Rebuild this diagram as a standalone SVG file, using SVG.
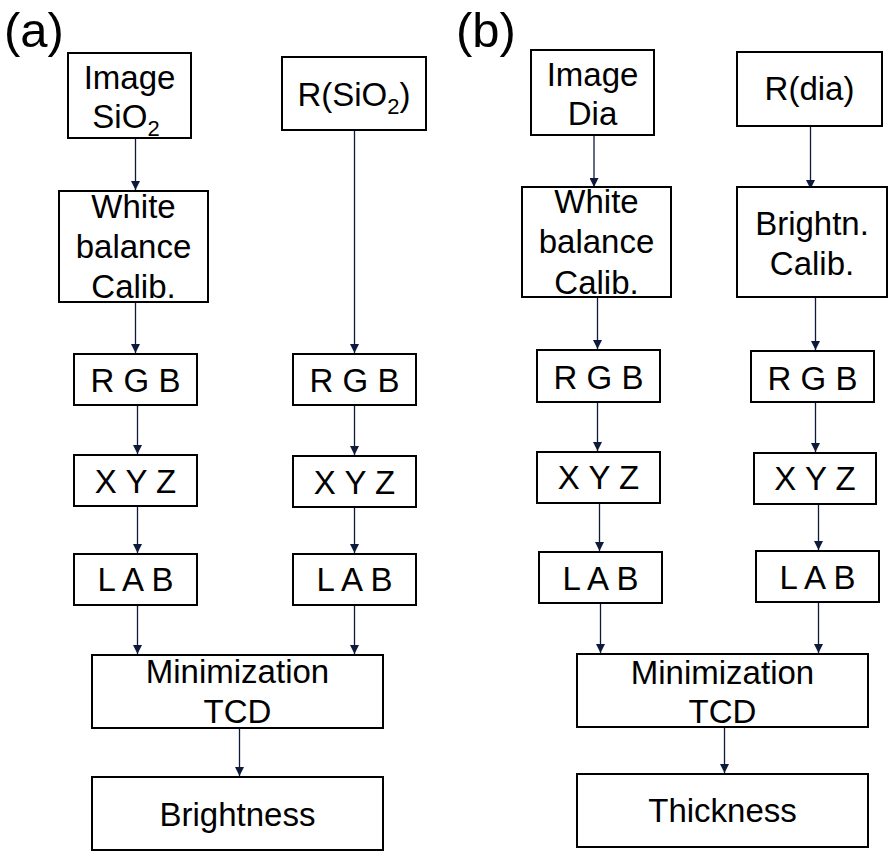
<svg xmlns="http://www.w3.org/2000/svg" width="894" height="863" viewBox="0 0 894 863">
<defs>
<marker id="ah" viewBox="0 0 10 10" refX="10" refY="5" markerWidth="9" markerHeight="9" markerUnits="userSpaceOnUse" orient="auto">
<path d="M0,0 L10,5 L0,10 Z" fill="#0e1a3b"/>
</marker>
<style>
.box{fill:#fff;stroke:#000;stroke-width:2}
.t{font-family:"Liberation Sans",Arial,sans-serif;font-size:33px;fill:#000;text-anchor:middle}
.lbl{font-family:"Liberation Sans",Arial,sans-serif;font-size:49px;fill:#000}
.c{stroke:#0e1a3b;stroke-width:1.3;fill:none}
.a{marker-end:url(#ah)}
.sub{font-size:22px}
</style>
</defs>
<rect width="894" height="863" fill="#fff"/>
<text class="lbl" x="4" y="47">(a)</text>
<text class="lbl" x="456" y="47">(b)</text>

<g id="connectors">
<line class="c a" x1="135.5" y1="139" x2="135.5" y2="190"/>
<line class="c a" x1="354.5" y1="130" x2="354.5" y2="353"/>
<line class="c a" x1="135.5" y1="302" x2="135.5" y2="353"/>
<line class="c a" x1="137.5" y1="405" x2="137.5" y2="454"/>
<line class="c a" x1="354.5" y1="405" x2="354.5" y2="455"/>
<line class="c a" x1="137.5" y1="506" x2="137.5" y2="553"/>
<line class="c a" x1="354.5" y1="507" x2="354.5" y2="553"/>
<line class="c a" x1="137.5" y1="605" x2="137.5" y2="654"/>
<line class="c a" x1="354.5" y1="605" x2="354.5" y2="654"/>
<line class="c a" x1="239.5" y1="728" x2="239.5" y2="776"/>

<line class="c a" x1="594" y1="136" x2="594" y2="187"/>
<line class="c a" x1="810.5" y1="126" x2="810.5" y2="189"/>
<line class="c a" x1="597.5" y1="297" x2="597.5" y2="349"/>
<line class="c a" x1="815.5" y1="297" x2="815.5" y2="350"/>
<line class="c a" x1="597.5" y1="402" x2="597.5" y2="451"/>
<line class="c a" x1="815.5" y1="402" x2="815.5" y2="452"/>
<line class="c a" x1="599.5" y1="503" x2="599.5" y2="551"/>
<line class="c a" x1="818.5" y1="504" x2="818.5" y2="550"/>
<line class="c a" x1="600.5" y1="603" x2="600.5" y2="653"/>
<line class="c a" x1="818.5" y1="602" x2="818.5" y2="653"/>
<line class="c a" x1="724.5" y1="727" x2="724.5" y2="773"/>
</g>

<g id="a-image">
<rect class="box" x="68" y="53" width="123" height="85"/>
<text class="t" x="129.5" y="89">Image</text>
<text class="t" x="126" y="128">SiO<tspan class="sub" dy="8">2</tspan></text>
</g>
<g id="a-rsio2">
<rect class="box" x="282" y="57" width="144" height="73"/>
<text class="t" x="354" y="106">R(SiO<tspan class="sub" dy="8">2</tspan><tspan dy="-8">)</tspan></text>
</g>
<g id="a-white">
<rect class="box" x="59" y="191" width="149" height="111"/>
<text class="t" x="133.5" y="218">White</text>
<text class="t" x="133.5" y="258">balance</text>
<text class="t" x="133.5" y="297.5">Calib.</text>
</g>
<g id="a-rgb1">
<rect class="box" x="74" y="354" width="123" height="51"/>
<text class="t" x="135.5" y="391.5">R G B</text>
</g>
<g id="a-rgb2">
<rect class="box" x="293" y="354" width="123" height="51"/>
<text class="t" x="354.5" y="391.5">R G B</text>
</g>
<g id="a-xyz1">
<rect class="box" x="74" y="455" width="123" height="51"/>
<text class="t" x="135.5" y="493">X Y Z</text>
</g>
<g id="a-xyz2">
<rect class="box" x="293" y="456" width="123" height="51"/>
<text class="t" x="354.5" y="494">X Y Z</text>
</g>
<g id="a-lab1">
<rect class="box" x="74" y="554" width="123" height="51"/>
<text class="t" x="135.5" y="591">L A B</text>
</g>
<g id="a-lab2">
<rect class="box" x="293" y="554" width="123" height="51"/>
<text class="t" x="354.5" y="591">L A B</text>
</g>
<g id="a-min">
<rect class="box" x="92" y="655" width="291" height="73"/>
<text class="t" x="237.5" y="683">Minimization</text>
<text class="t" x="237.5" y="723">TCD</text>
</g>
<g id="a-bright">
<rect class="box" x="92" y="777" width="291" height="73"/>
<text class="t" x="237.5" y="825.5">Brightness</text>
</g>

<g id="b-image">
<rect class="box" x="531" y="50" width="123" height="85"/>
<text class="t" x="592.5" y="86">Image</text>
<text class="t" x="592.5" y="125">Dia</text>
</g>
<g id="b-rdia">
<rect class="box" x="737" y="52" width="145" height="74"/>
<text class="t" x="809.5" y="100">R(dia)</text>
</g>
<g id="b-white">
<rect class="box" x="522" y="187" width="149" height="110"/>
<text class="t" x="596.5" y="213">White</text>
<text class="t" x="596.5" y="253">balance</text>
<text class="t" x="596.5" y="294">Calib.</text>
</g>
<g id="b-bcal">
<rect class="box" x="737" y="187" width="150" height="110"/>
<text class="t" x="812" y="235">Brightn.</text>
<text class="t" x="812" y="275">Calib.</text>
</g>
<g id="b-rgb1">
<rect class="box" x="537" y="350" width="123" height="52"/>
<text class="t" x="598.5" y="388.5">R G B</text>
</g>
<g id="b-rgb2">
<rect class="box" x="751" y="351" width="123" height="51"/>
<text class="t" x="812.5" y="390">R G B</text>
</g>
<g id="b-xyz1">
<rect class="box" x="537" y="452" width="123" height="51"/>
<text class="t" x="598.5" y="489">X Y Z</text>
</g>
<g id="b-xyz2">
<rect class="box" x="754" y="453" width="122" height="51"/>
<text class="t" x="815" y="490">X Y Z</text>
</g>
<g id="b-lab1">
<rect class="box" x="539" y="552" width="123" height="51"/>
<text class="t" x="600.5" y="589.5">L A B</text>
</g>
<g id="b-lab2">
<rect class="box" x="756" y="551" width="123" height="51"/>
<text class="t" x="817.5" y="589">L A B</text>
</g>
<g id="b-min">
<rect class="box" x="577" y="654" width="291" height="73"/>
<text class="t" x="722.5" y="684">Minimization</text>
<text class="t" x="722.5" y="722.5">TCD</text>
</g>
<g id="b-thick">
<rect class="box" x="577" y="774" width="291" height="73"/>
<text class="t" x="722.5" y="821.5">Thickness</text>
</g>
</svg>
